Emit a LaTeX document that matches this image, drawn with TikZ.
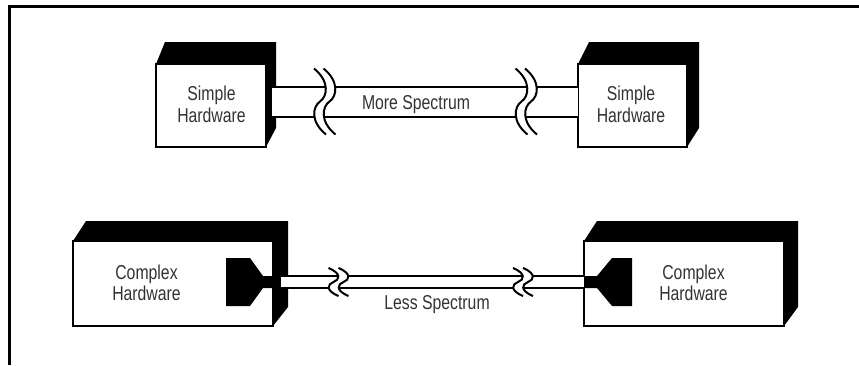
\documentclass[tikz,border=0pt]{standalone}
\usepackage{graphicx}
\usepackage{fontspec}
\setmainfont{Liberation Sans}
\usetikzlibrary{calc}
\tikzset{
  front/.style={draw, line width=2pt, fill=white, inner sep=0pt, outer sep=0pt},
  lbl/.style={inner sep=0pt, outer sep=0pt, text=black!80, align=center,
              font=\fontsize{15.8}{17.3}\selectfont},
  wire/.style={line width=2pt},
  brkline/.style={line width=2pt},
  frameline/.style={line width=3pt},
}
\newcommand\tallt[1]{\scalebox{1}[1.27]{#1}}
\newcommand\tallpair[2]{\scalebox{1}[1.27]{\begin{tabular}{@{}c@{}}#1\\#2\end{tabular}}}
% pair of break marks: #1 x of first curve, #2 y, #3 half height, #4 amplitude, #5 gap
\newcommand\brkpair[5]{%
  \fill[white] ({#1-#4},{#2-#3}) .. controls ({#1+1.7*#4},{#2-0.6*#3}) and ({#1+1.2*#4},{#2-0.15*#3}) .. (#1,#2)
     .. controls ({#1-1.2*#4},{#2+0.15*#3}) and ({#1-1.7*#4},{#2+0.6*#3}) .. ({#1+#4},{#2+#3})
     -- ({#1+#5+#4},{#2+#3}) .. controls ({#1+#5-1.7*#4},{#2+0.6*#3}) and ({#1+#5-1.2*#4},{#2+0.15*#3}) .. ({#1+#5},#2)
     .. controls ({#1+#5+1.2*#4},{#2-0.15*#3}) and ({#1+#5+1.7*#4},{#2-0.6*#3}) .. ({#1+#5-#4},{#2-#3}) -- cycle;
  \foreach \q in {0,#5} {
    \draw[brkline] ({#1+\q-#4},{#2-#3}) .. controls ({#1+\q+1.7*#4},{#2-0.6*#3}) and ({#1+\q+1.2*#4},{#2-0.15*#3}) .. ({#1+\q},#2)
       .. controls ({#1+\q-1.2*#4},{#2+0.15*#3}) and ({#1+\q-1.7*#4},{#2+0.6*#3}) .. ({#1+\q+#4},{#2+#3});
  }%
}
\begin{document}
\begin{tikzpicture}[x=1pt,y=-1pt]
\useasboundingbox (0,0) rectangle (859,365);
\fill[white] (0,0) rectangle (859,365);
% frame
\draw[frameline] (9,365) -- (9,6.5) -- (859,6.5);

% ---------- top: simple hardware ----------
\node[front, minimum width=110pt, minimum height=83pt] (s1) at (211,105.5) {};
\node[front, minimum width=109pt, minimum height=83pt] (s2) at (632.5,105.5) {};
\fill (s1.north west) -- ++(9,-22) -- ($(s1.north east)+(10,-22)$) -- ($(s1.south east)+(10,-19)$)
      -- (s1.south east) -- (s1.north east) -- cycle;
\fill (s2.north west) -- ++(11,-22) -- ($(s2.north east)+(12,-22)$) -- ($(s2.south east)+(12,-19)$)
      -- (s2.south east) -- (s2.north east) -- cycle;
\node[lbl] (s1t) at (211.5,107.1) {\tallpair{Simple}{Hardware}};
\node[lbl] (s2t) at (631,107.1) {\tallpair{Simple}{Hardware}};

% cable (more spectrum)
\fill[white] ($(s1.east)+(6,-19)$) rectangle ($(s2.west)+(0,11)$);
\draw[wire] ($(s1.east)+(6,-19)$) -- ($(s2.west)+(0,-19)$);
\draw[wire] ($(s1.east)+(6,11)$) -- ($(s2.west)+(0,11)$);
\brkpair{320}{101.5}{33}{6}{9.5}
\brkpair{521.5}{101.5}{33}{6}{9.5}
\node[lbl, anchor=base] (t1) at (416,109.3) {\tallt{More Spectrum}};

% ---------- bottom: complex hardware ----------
\node[front, minimum width=200pt, minimum height=85pt] (c1) at (173,283.5) {};
\node[front, minimum width=200pt, minimum height=85pt] (c2) at (684,283.5) {};
\fill (c1.north west) -- ++(13,-20) -- ($(c1.north east)+(15,-20)$) -- ($(c1.south east)+(15,-19)$)
      -- (c1.south east) -- (c1.north east) -- cycle;
\fill (c2.north west) -- ++(13,-20) -- ($(c2.north east)+(14,-20)$) -- ($(c2.south east)+(14,-19)$)
      -- (c2.south east) -- (c2.north east) -- cycle;
% connectors (funnels)
\fill ($(c1.east)+(0,-7.5)$) -- ++(-10,0) -- ++(-13,-18) -- ++(-24,0) -- ++(0,48) -- ++(24,0)
      -- ++(13,-18) -- ++(10,0) -- cycle;
\fill ($(c2.west)+(0,-7.5)$) -- ++(13,0) -- ++(15,-18) -- ++(20,0) -- ++(0,48) -- ++(-20,0)
      -- ++(-15,-18) -- ++(-13,0) -- cycle;
\node[lbl] (c1t) at (146.5,285.6) {\tallpair{Complex}{Hardware}};
\node[lbl] (c2t) at (693.5,285.6) {\tallpair{Complex}{Hardware}};

% cable (less spectrum)
\fill[white] ($(c1.east)+(8,-7.5)$) rectangle ($(c2.west)+(0,4.5)$);
\draw[wire] ($(c1.east)+(8,-7.5)$) -- ($(c2.west)+(0,-7.5)$);
\draw[wire] ($(c1.east)+(8,4.5)$) -- ($(c2.west)+(0,4.5)$);
\brkpair{333.5}{282}{14}{5}{10}
\brkpair{518}{282}{14}{5}{10}
\node[lbl, anchor=base] (t2) at (437,309) {\tallt{Less Spectrum}};
\end{tikzpicture}
\end{document}
